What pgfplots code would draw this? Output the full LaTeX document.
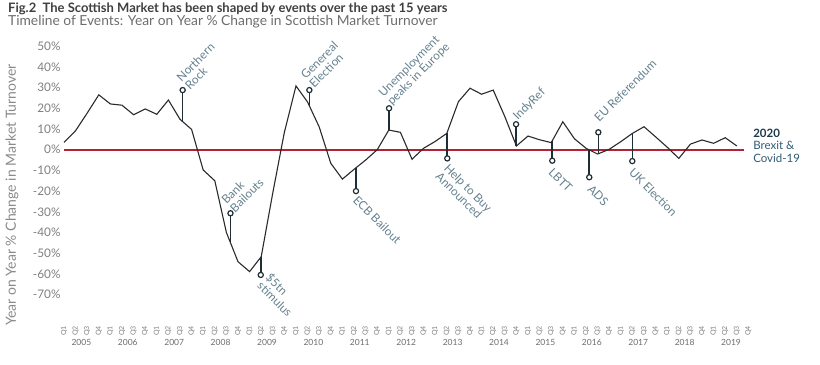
\documentclass[border=0pt]{standalone}
\usepackage{fontspec}
\setmainfont{Lato}
\usepackage{pgfplots}
\pgfplotsset{compat=1.18}
\definecolor{titlegray}{HTML}{3F3F3F}
\definecolor{subgray}{HTML}{6D6D6D}
\definecolor{tickgray}{HTML}{7F7F7F}
\definecolor{labelgray}{HTML}{8A8A8A}
\definecolor{annot}{RGB}{100,128,142}
\definecolor{stemc}{HTML}{1F2D35}
\definecolor{linec}{HTML}{2A2A2A}
\definecolor{redc}{RGB}{178,34,52}
\definecolor{navy}{HTML}{1C3A4C}
\definecolor{teal}{HTML}{2E5B73}
\tikzset{
  up/.style={rotate=45, anchor=base west, inner sep=0pt, font=\fontsize{11.8}{12}\selectfont, text=annot},
  down/.style={rotate=-45, anchor=base west, inner sep=0pt, font=\fontsize{11.8}{12}\selectfont, text=annot},
}
\pgfplotsset{
  stem/.style={stemc, line width=1.6pt, mark=*, mark indices={2}, mark size=2.6pt, mark options={fill=white, draw=stemc, line width=1.2pt}},
}
\pgfplotstableread{
k v
0 3.5
1 9.2
2 17.7
3 26.5
4 22.1
5 21.5
6 16.9
7 19.7
8 17.1
9 24.0
10 14.7
11 9.8
12 -9.8
13 -15.0
14 -40.0
15 -54.1
16 -58.9
17 -51.7
18 -20.8
19 8.5
20 30.8
21 23.0
22 11.0
23 -6.6
24 -14.2
25 -9.5
26 -5.0
27 0.0
28 9.5
29 8.4
30 -4.6
31 0.7
32 4.0
33 7.9
34 23.2
35 29.7
36 26.8
37 28.8
38 16.0
39 1.8
40 6.6
41 4.8
42 3.4
43 13.5
44 5.3
45 0.7
46 -2.1
47 0.2
48 3.9
49 7.9
50 11.1
51 6.2
52 1.2
53 -4.2
54 2.7
55 4.7
56 3.1
57 5.8
58 1.8
}\turnover
\begin{document}
\begin{tikzpicture}
\begin{axis}[
  x=11.6pt, y=2.07pt,
  xmin=-0.2, xmax=59.3, ymin=-70, ymax=50,
  axis line style={draw=none},
  major tick length=0pt,
  clip=false,
  ytick={-70,-60,-50,-40,-30,-20,-10,0,10,20,30,40,50},
  yticklabels={-70\%,-60\%,-50\%,-40\%,-30\%,-20\%,-10\%,0\%,10\%,20\%,30\%,40\%,50\%},
  yticklabel style={font=\fontsize{11.8}{13}\selectfont, text=tickgray, anchor=east, inner sep=1pt},
  xtick={0,...,59},
  xticklabels={Q1,Q2,Q3,Q4,Q1,Q2,Q3,Q4,Q1,Q2,Q3,Q4,Q1,Q2,Q3,Q4,Q1,Q2,Q3,Q4,Q1,Q2,Q3,Q4,Q1,Q2,Q3,Q4,Q1,Q2,Q3,Q4,Q1,Q2,Q3,Q4,Q1,Q2,Q3,Q4,Q1,Q2,Q3,Q4,Q1,Q2,Q3,Q4,Q1,Q2,Q3,Q4,Q1,Q2,Q3,Q4,Q1,Q2,Q3,Q4},
  xticklabel style={font=\fontsize{7}{8}\selectfont, text=tickgray, rotate=90, anchor=east, inner sep=0pt},
  xticklabel shift=31.4pt,
  extra x ticks={1.5,5.5,9.5,13.5,17.5,21.5,25.5,29.5,33.5,37.5,41.5,45.5,49.5,53.5,57.5},
  extra x tick labels={2005,2006,2007,2008,2009,2010,2011,2012,2013,2014,2015,2016,2017,2018,2019},
  extra x tick style={xticklabel style={rotate=-90, anchor=north, yshift=-13.6pt, font=\fontsize{8.5}{9}\selectfont, text=subgray}},
  ylabel={Year on Year \% Change in Market Turnover},
  ylabel style={at={(axis description cs:-0.072,0.401)}, anchor=center, font=\fontsize{14}{16}\selectfont, text=labelgray},
]
\coordinate (bbSW) at (axis cs:-5.517,-104.0);
\coordinate (bbNE) at (axis cs:65.17,72.32);

\addplot[redc, line width=1.8pt] coordinates {(0,0) (58.6,0)};
\addplot[linec, line width=1.1pt] table[x=k, y=v] {\turnover};

% event stems
\addplot[stem] coordinates {(10.23,13.6) (10.23,28.8)};
\addplot[stem] coordinates {(14.35,-44.9) (14.35,-30.7)};
\addplot[stem] coordinates {(16.96,-51.9) (16.96,-60.5)};
\addplot[stem] coordinates {(21.15,21.2) (21.15,28.8)};
\addplot[stem] coordinates {(25.17,-8.7) (25.17,-20.0)};
\addplot[stem] coordinates {(28.02,9.5) (28.02,20.0)};
\addplot[stem] coordinates {(33.04,7.9) (33.04,-4.2)};
\addplot[stem] coordinates {(38.97,2.0) (38.97,12.3)};
\addplot[stem] coordinates {(42.09,4.3) (42.09,-5.3)};
\addplot[stem] coordinates {(45.28,-0.1) (45.28,-13.3)};
\addplot[stem] coordinates {(46.06,-2.0) (46.06,8.4)};
\addplot[stem] coordinates {(48.99,7.9) (48.99,-5.5)};

% event labels
\node[up] at (axis cs:10.129,32.61) {Northern};
\node[up] at (axis cs:10.862,28.50) {Rock};
\node[up] at (axis cs:20.845,33.77) {Genereal};
\node[up] at (axis cs:21.578,29.66) {Election};
\node[up] at (axis cs:27.543,25.22) {Unemployment};
\node[up] at (axis cs:28.276,21.11) {peaks in Europe};
\node[up] at (axis cs:14.009,-26.62) {Bank};
\node[up] at (axis cs:14.741,-30.72) {Bailouts};
\node[up] at (axis cs:39.112,13.86) {IndyRef};
\node[up] at (axis cs:46.147,13.04) {EU Referendum};
\node[down] at (axis cs:17.328,-62.13) {\$5tn};
\node[down] at (axis cs:16.595,-66.23) {stimulus};
\node[down] at (axis cs:24.853,-24.78) {ECB Bailout};
\node[down] at (axis cs:32.698,-9.32) {Help to Buy};
\node[down] at (axis cs:31.966,-13.43) {Announced};
\node[down] at (axis cs:41.698,-11.40) {LBTT};
\node[down] at (axis cs:45.060,-19.47) {ADS};
\node[down] at (axis cs:48.647,-11.40) {UK Election};

% right note
\node[anchor=base west, inner sep=0pt, font=\bfseries\fontsize{11.5}{12.6}\selectfont, text=navy] at (axis cs:59.4,5.9) {2020};
\node[anchor=base west, inner sep=0pt, font=\fontsize{11.5}{12.6}\selectfont, text=teal] at (axis cs:59.4,-0.14) {Brexit \&};
\node[anchor=base west, inner sep=0pt, font=\fontsize{11.5}{12.6}\selectfont, text=teal] at (axis cs:59.4,-6.3) {Covid-19};

% titles
\node[anchor=base west, inner sep=0pt, font=\bfseries\fontsize{13}{15}\selectfont, text=titlegray] at (axis cs:-4.828,66.2) {Fig.2\ \ The Scottish Market has been shaped by events over the past 15 years};
\node[anchor=base west, inner sep=0pt, font=\fontsize{13.8}{15}\selectfont, text=subgray] at (axis cs:-4.828,60.2) {Timeline of Events: Year on Year \% Change in Scottish Market Turnover};
\end{axis}
\pgfresetboundingbox
\useasboundingbox (bbSW) rectangle (bbNE);
\end{tikzpicture}
\end{document}
